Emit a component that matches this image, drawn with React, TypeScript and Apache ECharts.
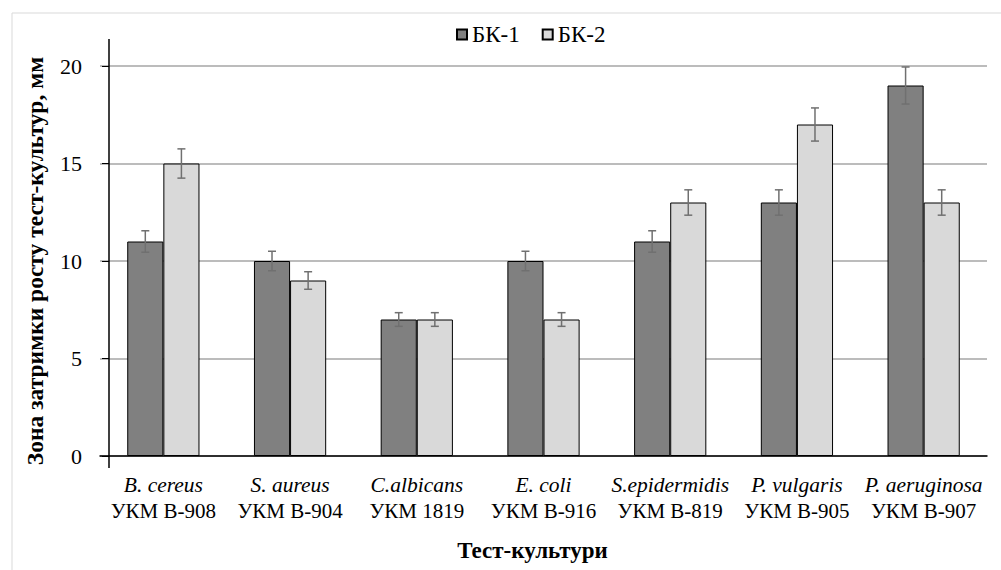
import React, { useEffect, useRef } from "react";
import * as echarts from "echarts";

const speciesNames = ["B. cereus", "S. aureus", "C.albicans", "E. coli", "S.epidermidis", "P. vulgaris", "P. aeruginosa"];
const strainCodes = ["УКМ В-908", "УКМ В-904", "УКМ 1819", "УКМ В-916", "УКМ В-819", "УКМ В-905", "УКМ В-907"];
const seriesNames = ["БК-1", "БК-2"];
const bk1Values = [11, 10, 7, 10, 11, 13, 19];
const bk2Values = [15, 9, 7, 7, 13, 17, 13];
const bk1Errors = [0.55, 0.5, 0.35, 0.5, 0.55, 0.65, 0.95];
const bk2Errors = [0.75, 0.45, 0.35, 0.35, 0.65, 0.85, 0.65];
const yMin = 0;
const yMax = 20;
const yInterval = 5;

const FONT = "Liberation Serif";
const BAR_FRACTION = 0.285;

function errorSeries(values: number[], errors: number[], side: number) {
  return {
    type: "custom",
    name: "err" + side,
    z: 5,
    silent: true,
    encode: { x: 0, y: [1, 2] },
    data: values.map((v, i) => [i, v - errors[i], v + errors[i]]),
    renderItem: (params: any, api: any) => {
      const idx = api.value(0);
      const lo = api.value(1);
      const hi = api.value(2);
      const band = api.size([1, 0])[0];
      const dx = (band * BAR_FRACTION * side) / 2;
      const pTop = api.coord([idx, hi]);
      const pBot = api.coord([idx, lo]);
      const x = pTop[0] + dx;
      const cap = 4;
      const style = { stroke: "#707070", lineWidth: 1.5 };
      return {
        type: "group",
        children: [
          { type: "line", shape: { x1: x, y1: pTop[1], x2: x, y2: pBot[1] }, style },
          { type: "line", shape: { x1: x - cap, y1: pTop[1], x2: x + cap, y2: pTop[1] }, style },
          { type: "line", shape: { x1: x - cap, y1: pBot[1], x2: x + cap, y2: pBot[1] }, style },
        ],
      };
    },
  };
}

export default function App() {
  const ref = useRef<HTMLDivElement>(null);
  useEffect(() => {
    if (!ref.current) return;
    const chart = echarts.init(ref.current, undefined, { renderer: "svg" });
    const categories = speciesNames.map((s, i) => `{i|${s}}\n{n|${strainCodes[i]}}`);
    chart.setOption({
      animation: false,
      backgroundColor: "#ffffff",
      textStyle: { fontFamily: FONT },
      graphic: [
        {
          type: "rect",
          shape: { x: 12, y: 13, width: 1000, height: 570 },
          style: { fill: "none", stroke: "#d9d9d9", lineWidth: 1 },
          silent: true,
        },
        {
          type: "line",
          shape: { x1: 109, y1: 39, x2: 109, y2: 468 },
          style: { stroke: "#000", lineWidth: 1.5 },
          z: 10,
          silent: true,
        },
      ],
      legend: {
        data: seriesNames,
        left: 451,
        top: 18,
        itemWidth: 10,
        itemHeight: 10,
        itemGap: 22,
        icon: "rect",
        textStyle: { fontFamily: FONT, fontSize: 23, color: "#000" },
      },
      grid: { left: 100, right: 14, top: 66, bottom: 114, containLabel: false },
      xAxis: {
        type: "category",
        data: categories,
        name: "Тест-культури",
        nameLocation: "middle",
        nameGap: 94,
        nameTextStyle: {
          fontFamily: FONT,
          fontSize: 23,
          fontWeight: "bold",
          color: "#000",
          verticalAlign: "middle",
          padding: [0, 22, 0, 0],
        },
        axisLine: { lineStyle: { color: "#000", width: 1.5 } },
        axisTick: { show: false },
        axisLabel: {
          margin: 16,
          interval: 0,
          color: "#000",
          fontFamily: FONT,
          rich: {
            i: { fontFamily: FONT, fontSize: 21.5, fontStyle: "italic", lineHeight: 26, color: "#000" },
            n: { fontFamily: FONT, fontSize: 21, lineHeight: 26, color: "#000" },
          },
        },
      },
      yAxis: {
        type: "value",
        min: yMin,
        max: yMax,
        interval: yInterval,
        offset: -9,
        name: "Зона затримки росту тест-культур, мм",
        nameLocation: "middle",
        nameGap: 62,
        nameTextStyle: { fontFamily: FONT, fontSize: 23.5, fontWeight: "bold", color: "#000" },
        axisLine: { show: false },
        axisTick: { show: true, length: 7, lineStyle: { color: "#000", width: 1 } },
        axisLabel: { margin: 27, fontFamily: FONT, fontSize: 22, color: "#000" },
        splitLine: { lineStyle: { color: "#a6a6a6", width: 1.5 } },
      },
      series: [
        {
          type: "bar",
          name: seriesNames[0],
          data: bk1Values,
          barWidth: BAR_FRACTION * 100 + "%",
          barGap: "0%",
          itemStyle: { color: "#808080", borderColor: "#000", borderWidth: 1 },
        },
        {
          type: "bar",
          name: seriesNames[1],
          data: bk2Values,
          barWidth: BAR_FRACTION * 100 + "%",
          barGap: "0%",
          itemStyle: { color: "#d9d9d9", borderColor: "#000", borderWidth: 1 },
        },
        errorSeries(bk1Values, bk1Errors, -1),
        errorSeries(bk2Values, bk2Errors, 1),
      ],
    });
    return () => chart.dispose();
  }, []);
  return (
    <>
      <style>{`#chart-root text { font-family: "Liberation Serif", "Times New Roman", serif !important; }`}</style>
      <div id="chart-root" ref={ref} style={{ position: "fixed", left: 0, top: 0, width: 1001, height: 570 }} />
    </>
  );
}
